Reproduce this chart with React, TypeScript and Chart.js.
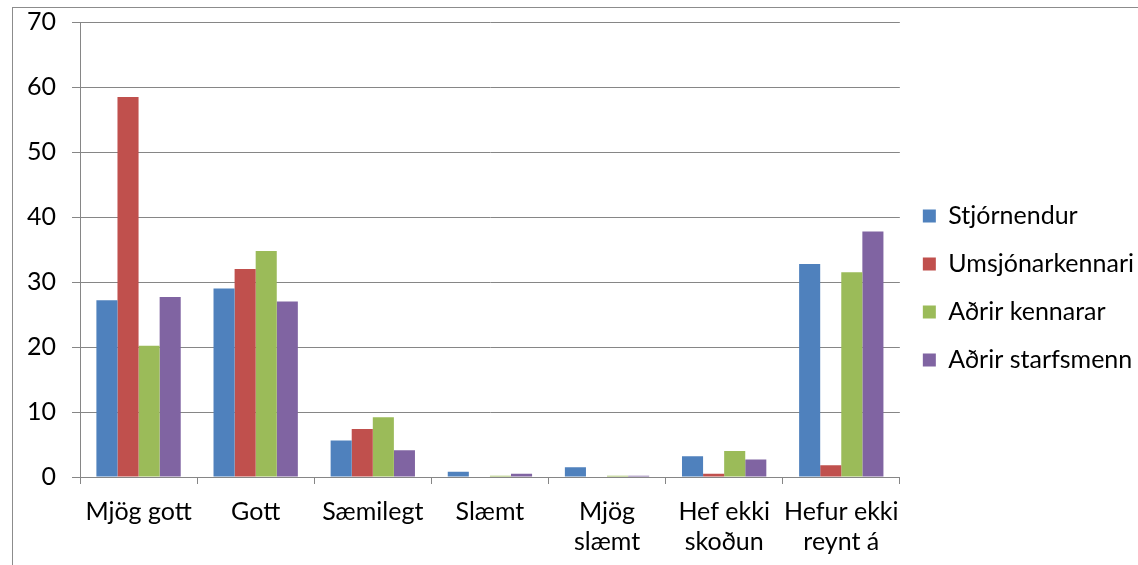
import React, { useEffect, useRef } from "react";
import { Chart, registerables } from "chart.js";

Chart.register(...registerables);

const categories: (string | string[])[] = [
  "Mjög gott",
  "Gott",
  "Sæmilegt",
  "Slæmt",
  ["Mjög", "slæmt"],
  ["Hef ekki", "skoðun"],
  ["Hefur ekki", "reynt á"],
];

const stjornendur = [27.2, 29.0, 5.6, 0.8, 1.5, 3.2, 32.8];
const umsjonarkennari = [58.5, 32.0, 7.4, 0.0, 0.0, 0.5, 1.8];
const adrirKennarar = [20.2, 34.8, 9.2, 0.2, 0.2, 4.0, 31.5];
const adrirStarfsmenn = [27.7, 27.0, 4.1, 0.5, 0.2, 2.7, 37.8];

const seriesNames = ["Stjórnendur", "Umsjónarkennari", "Aðrir kennarar", "Aðrir starfsmenn"];
const seriesColors = ["#4F81BD", "#C0504D", "#9BBB59", "#8064A2"];

const FONT = "Lato, 'Open Sans', sans-serif";
const GRID = "#868686";

export default function App() {
  const ref = useRef<HTMLCanvasElement | null>(null);

  useEffect(() => {
    if (!ref.current) return;
    const data = [stjornendur, umsjonarkennari, adrirKennarar, adrirStarfsmenn];
    const chart = new Chart(ref.current, {
      type: "bar",
      data: {
        labels: categories,
        datasets: data.map((d, i) => ({
          label: seriesNames[i],
          data: d,
          backgroundColor: seriesColors[i],
          borderWidth: 0,
          barPercentage: 1,
          categoryPercentage: 0.72,
        })),
      },
      options: {
        animation: false,
        responsive: false,
        maintainAspectRatio: false,
        layout: { padding: { left: 11, top: -7, right: -6, bottom: 0 } },
        plugins: {
          tooltip: { enabled: false },
          legend: {
            position: "right",
            align: "center",
            title: { display: true, text: " ", font: { size: 10 }, padding: 3 },
            labels: {
              boxWidth: 13,
              boxHeight: 13,
              padding: 23,
              color: "#000",
              font: { family: FONT, size: 25 },
            },
          },
        },
        scales: {
          x: {
            afterFit: (scale: any) => {
              scale.height = 88;
            },
            grid: {
              display: true,
              drawOnChartArea: false,
              drawTicks: true,
              tickLength: 7,
              color: GRID,
              offset: true,
            },
            border: { display: true, color: GRID, width: 1 },
            ticks: {
              color: "#000",
              font: { family: FONT, size: 25, lineHeight: 1.2 },
              padding: 13,
              maxRotation: 0,
              autoSkip: false,
            },
          },
          y: {
            min: 0,
            max: 70,
            grid: { color: GRID, lineWidth: 1, tickLength: 8 },
            border: { display: true, color: GRID, width: 1 },
            ticks: {
              stepSize: 10,
              color: "#000",
              font: { family: FONT, size: 25, lineHeight: 0.5 },
              padding: 16,
            },
          },
        },
      },
    });
    return () => chart.destroy();
  }, []);

  return (
    <div style={{ position: "fixed", left: 0, top: 0, width: 1138, height: 565, background: "#fff" }}>
      <div
        style={{
          position: "absolute",
          left: 12,
          top: 7,
          right: 0,
          bottom: 0,
          borderLeft: "1px solid #8c8c8c",
          borderTop: "1px solid #8c8c8c",
        }}
      />
      <canvas ref={ref} width={1138} height={565} style={{ position: "absolute", left: 0, top: 0 }} />
    </div>
  );
}
